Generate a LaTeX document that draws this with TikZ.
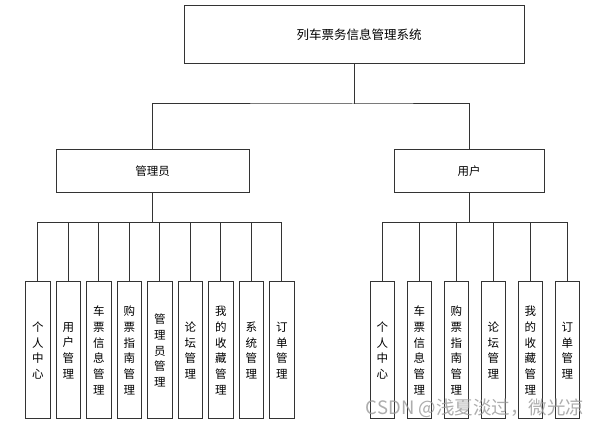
\documentclass[tikz,border=0pt]{standalone}
\usepackage{fontspec}
\newfontfamily\cjk{Noto Sans CJK SC}
\begin{document}
\begin{tikzpicture}[x=1pt,y=-1pt,
  line/.style={draw=black!80,line width=1pt},
  box/.style={rectangle,draw=black!80,line width=1pt,fill=white,inner sep=0pt,font=\cjk\fontsize{11.5}{13}\selectfont},
  sub/.style={box,minimum width=24.5pt,minimum height=137pt,align=center,font=\cjk\fontsize{11.5}{15.7}\selectfont}]
\useasboundingbox (0,0) rectangle (606,427);
\node[box,minimum width=340pt,minimum height=58pt] (top) at (354,35) {};
\node[font=\cjk\fontsize{12.5}{14}\selectfont,inner sep=0pt] (title) at (359,35) {列车票务信息管理系统};
\node[box,minimum width=193pt,minimum height=43pt] (mgr) at (152.5,171.5) {管理员};
\node[box,minimum width=150pt,minimum height=43pt] (usr) at (469,171.5) {用户};
\coordinate (j0) at (354,104);
\draw[line] (top.south) -- (j0);
\draw[line] (mgr.north) |- (j0) -| (usr.north);
% admin children
\node[sub] (a1) at (37.9,350.5) {个\\人\\中\\心};
\node[sub] (a2) at (68.4,350.5) {用\\户\\管\\理};
\node[sub] (a3) at (98.9,350.5) {车\\票\\信\\息\\管\\理};
\node[sub] (a4) at (129.4,350.5) {购\\票\\指\\南\\管\\理};
\node[sub] (a5) at (159.9,350.5) {管\\理\\员\\管\\理};
\node[sub] (a6) at (190.4,350.5) {论\\坛\\管\\理};
\node[sub] (a7) at (220.9,350.5) {我\\的\\收\\藏\\管\\理};
\node[sub] (a8) at (251.4,350.5) {系\\统\\管\\理};
\node[sub] (a9) at (281.9,350.5) {订\\单\\管\\理};
\coordinate (ja) at (152.5,222.7);
\draw[line] (mgr.south) -- (ja);
\draw[line] (a1.north) |- (ja) -| (a9.north);
\foreach \i in {2,...,8} {\draw[line] (a\i.north) -- (a\i.north |- ja);}
% user children
\node[sub] (b1) at (382.3,350.5) {个\\人\\中\\心};
\node[sub] (b2) at (419.3,350.5) {车\\票\\信\\息\\管\\理};
\node[sub] (b3) at (456.3,350.5) {购\\票\\指\\南\\管\\理};
\node[sub] (b4) at (493.3,350.5) {论\\坛\\管\\理};
\node[sub] (b5) at (530.3,350.5) {我\\的\\收\\藏\\管\\理};
\node[sub] (b6) at (567.3,350.5) {订\\单\\管\\理};
\coordinate (jb) at (469,222.7);
\draw[line] (usr.south) -- (jb);
\draw[line] (b1.north) |- (jb) -| (b6.north);
\foreach \i in {2,...,5} {\draw[line] (b\i.north) -- (b\i.north |- jb);}
\node[font=\cjk\fontsize{18.5}{20}\selectfont,text=black!40,opacity=0.8,anchor=center,inner sep=0pt] (wm) at (475,408) {CSDN @浅夏淡过，微光凉};
\end{tikzpicture}
\end{document}
